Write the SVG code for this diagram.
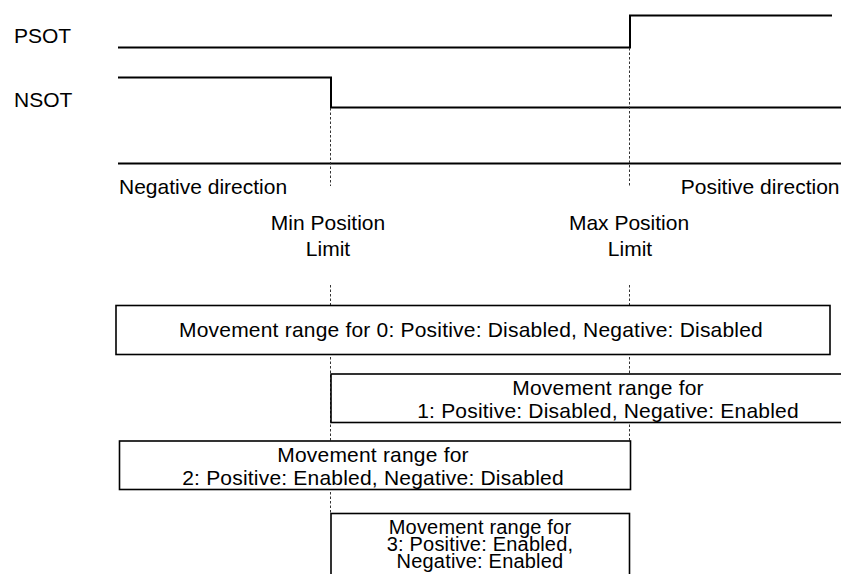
<svg xmlns="http://www.w3.org/2000/svg" width="841" height="574" viewBox="0 0 841 574">
<style>
text{font-family:"Liberation Sans",Arial,sans-serif;font-size:21px;fill:#000}
.mid{text-anchor:middle}
.sig{fill:none;stroke:#000;stroke-width:2}
.dash{fill:none;stroke:#333;stroke-width:1;stroke-dasharray:2.5,2}
.box rect{fill:#fff;stroke:#000;stroke-width:1.6}
.box text{letter-spacing:0.2px}
.tight text{font-size:20px}
</style>
<rect width="841" height="574" fill="#fff"/>
<g id="labels">
<text x="14" y="43">PSOT</text>
<text x="14" y="107">NSOT</text>
<text x="119" y="194">Negative direction</text>
<text x="839.5" y="194" text-anchor="end">Positive direction</text>
<text class="mid" x="328" y="230">Min Position</text>
<text class="mid" x="328" y="256">Limit</text>
<text class="mid" x="629" y="230">Max Position</text>
<text class="mid" x="630" y="256">Limit</text>
</g>
<g id="connectors">
<polyline class="sig" points="118,47.5 630,47.5 630,15.5 832,15.5"/>
<polyline class="sig" points="118,77.5 331,77.5 331,107.5 841,107.5"/>
<line class="sig" x1="118" y1="163.5" x2="841" y2="163.5"/>
<line class="dash" x1="330.5" y1="108" x2="330.5" y2="186"/>
<line class="dash" x1="629.5" y1="48" x2="629.5" y2="186"/>
<line class="dash" x1="330.5" y1="285" x2="330.5" y2="513"/>
<line class="dash" x1="629.5" y1="285" x2="629.5" y2="441"/>
</g>
<g id="range0" class="box">
<rect x="116" y="305.5" width="714" height="49"/>
<text class="mid" x="471" y="337">Movement range for 0: Positive: Disabled, Negative: Disabled</text>
</g>
<g id="range1" class="box">
<rect x="331" y="374" width="560" height="48.5"/>
<text class="mid" x="608" y="395">Movement range for</text>
<text class="mid" x="608" y="418">1: Positive: Disabled, Negative: Enabled</text>
</g>
<g id="range2" class="box">
<rect x="119.5" y="441" width="511" height="48.5"/>
<text class="mid" x="373" y="462">Movement range for</text>
<text class="mid" x="373" y="484.5">2: Positive: Enabled, Negative: Disabled</text>
</g>
<g id="range3" class="box tight">
<rect x="331" y="513.5" width="298.5" height="80"/>
<text class="mid" x="480" y="534">Movement range for</text>
<text class="mid" x="480" y="551">3: Positive: Enabled,</text>
<text class="mid" x="480" y="568"> Negative: Enabled</text>
</g>
</svg>
